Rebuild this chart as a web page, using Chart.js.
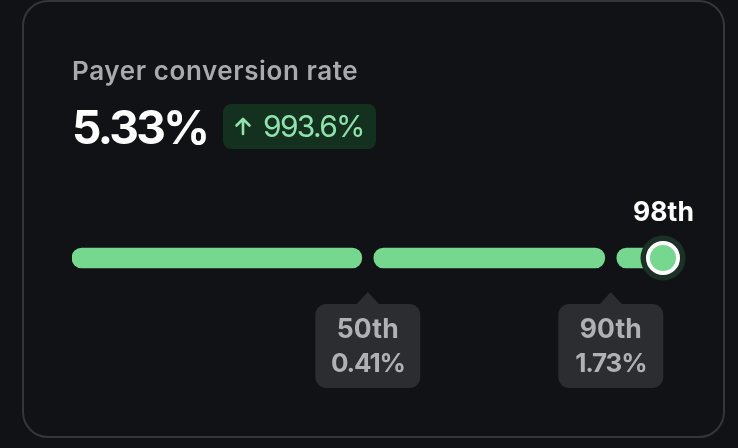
<!DOCTYPE html>
<html>
<head>
<meta charset="utf-8">
<script src="https://cdn.jsdelivr.net/npm/chart.js@4"></script>
<style>
html,body{margin:0;padding:0;background:#111216;width:738px;height:448px;overflow:hidden;font-family:Inter,sans-serif}
#card{position:absolute;left:22px;top:0;width:699px;height:434px;border:2px solid #35363a;border-radius:26px}
canvas{position:absolute;left:0;top:0}
.t{position:absolute;white-space:nowrap}
#title{left:72px;top:55px;font-size:26px;line-height:32px;font-weight:600;color:#a9aaae;letter-spacing:.6px}
#value{left:72px;top:97px;font-size:46px;line-height:60px;font-weight:700;color:#fff;letter-spacing:-2.7px}
#badge{position:absolute;left:223px;top:104px;width:153px;height:45px;background:#14301e;border-radius:8px}
#badge svg{position:absolute;left:10px;top:12px}
#pct{left:40px;top:2px;font-size:30px;line-height:40px;font-weight:400;color:#8fe3ad;letter-spacing:-1.7px}
</style>
</head>
<body>
<div id="card"></div>
<canvas id="c" width="738" height="448"></canvas>
<div class="t" id="title"></div>
<div class="t" id="value"></div>
<div id="badge">
<svg width="20" height="20" viewBox="0 0 20 20" fill="none" stroke="#8fe3ad" stroke-width="2.6" stroke-linecap="round" stroke-linejoin="round"><path d="M10 18V3M3.5 9.5L10 3l6.5 6.5"/></svg>
<div class="t" id="pct"></div>
</div>
<script>
const metricTitle = "Payer conversion rate";
const metricValue = "5.33%";
const metricChange = "993.6%";
const segmentStarts = [0, 50.3, 90.8];
const segmentEnds = [48.3, 88.8, 98.5];
const currentPercentile = 98.5;
const currentLabel = "98th";
const benchmarkLabels = ["50th", "90th"];
const benchmarkValues = ["0.41%", "1.73%"];

document.getElementById('title').textContent = metricTitle;
document.getElementById('value').textContent = metricValue;
document.getElementById('pct').textContent = metricChange;

const GREEN = '#76d88f';
const rr = (ctx, x, y, w, h, r) => { ctx.beginPath(); ctx.roundRect(x, y, w, h, r); };

const annotate = {
  id: 'annotate',
  afterDraw(chart) {
    const ctx = chart.ctx, xs = chart.scales.x;
    const cy = chart.scales.y.getPixelForValue(0);
    ctx.save();
    ctx.textAlign = 'center';
    ctx.textBaseline = 'alphabetic';
    benchmarkLabels.forEach((lab, i) => {
      const px = xs.getPixelForValue((segmentEnds[i] + segmentStarts[i + 1]) / 2);
      const w = 105, top = cy + 46, h = 84, l = px - w / 2;
      ctx.fillStyle = '#2c2d31';
      rr(ctx, l, top, w, h, 11); ctx.fill();
      ctx.beginPath();
      ctx.moveTo(px - 12, top + 1); ctx.lineTo(px, top - 12); ctx.lineTo(px + 12, top + 1);
      ctx.closePath(); ctx.fill();
      ctx.fillStyle = '#b0b1b5';
      ctx.font = '700 26.5px Inter, sans-serif';
      ctx.letterSpacing = '0.1px';
      ctx.fillText(lab, px, top + 34);
      ctx.font = '700 26px Inter, sans-serif';
      ctx.letterSpacing = '-1.2px';
      ctx.fillText(benchmarkValues[i], px, top + 68);
    });
    ctx.fillStyle = '#ffffff';
    ctx.font = '700 26.5px Inter, sans-serif';
    ctx.letterSpacing = '0.1px';
    ctx.fillText(currentLabel, xs.getPixelForValue(currentPercentile) + 0.5, cy - 37);
    ctx.restore();
  }
};

new Chart(document.getElementById('c'), {
  data: {
    labels: ['p'],
    datasets: [
      { type: 'scatter', order: 1, clip: false, data: [{ x: currentPercentile, y: 'p' }],
        pointRadius: 15, pointHoverRadius: 15, pointBackgroundColor: GREEN,
        pointBorderColor: '#ffffff', pointBorderWidth: 4 },
      { type: 'scatter', order: 2, clip: false, data: [{ x: currentPercentile, y: 'p' }],
        pointRadius: 22.5, pointHoverRadius: 22.5, pointBackgroundColor: '#1c3126', pointBorderWidth: 0 },
      { type: 'bar', order: 3, indexAxis: 'y', data: [[segmentStarts[0], segmentEnds[0]]],
        backgroundColor: GREEN, barThickness: 20, borderRadius: 10, borderSkipped: false, grouped: false },
      { type: 'bar', order: 3, indexAxis: 'y', data: [[segmentStarts[1], segmentEnds[1]]],
        backgroundColor: GREEN, barThickness: 20, borderRadius: 10, borderSkipped: false, grouped: false },
      { type: 'bar', order: 3, indexAxis: 'y', data: [[segmentStarts[2], segmentEnds[2]]],
        backgroundColor: GREEN, barThickness: 20, borderRadius: 10, borderSkipped: false, grouped: false }
    ]
  },
  options: {
    responsive: false,
    animation: false,
    events: [],
    layout: { padding: { left: 72, right: 66, top: 228, bottom: 160 } },
    plugins: { legend: { display: false }, title: { display: false }, tooltip: { enabled: false } },
    scales: {
      x: { type: 'linear', min: 0, max: 100, display: false },
      y: { type: 'category', labels: ['p'], display: false }
    }
  },
  plugins: [annotate]
});
</script>
</body>
</html>
